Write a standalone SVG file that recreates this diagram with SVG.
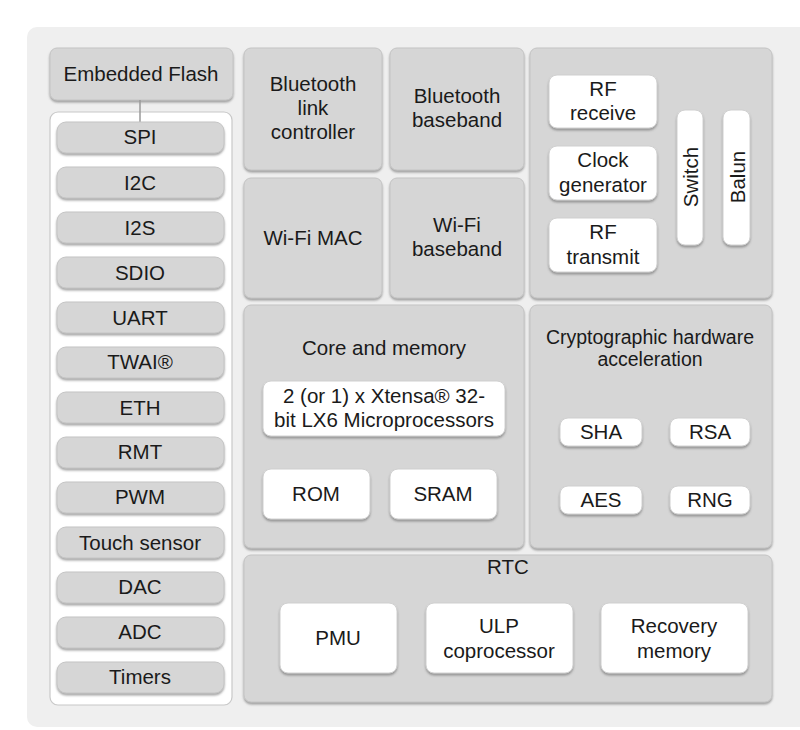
<svg xmlns="http://www.w3.org/2000/svg" width="800" height="730" viewBox="0 0 800 730">
<style>
.bg{fill:#efefef}
.p{fill:#d6d6d6;stroke:#c4c4c4;stroke-width:1;filter:url(#sh)}
.w{fill:#ffffff;stroke:#d0d0d0;stroke-width:1;filter:url(#sh)}
.pan{fill:#ffffff;stroke:#c8c8c8;stroke-width:1.2}
text{font-family:"Liberation Sans",Arial,sans-serif;font-size:20.5px;fill:#1a1a1a;text-anchor:middle;dominant-baseline:central}
text.t2{font-size:19.5px}
.conn{stroke:#9a9a9a;stroke-width:1.5;fill:none}
</style>
<defs>
<filter id="sh" x="-10%" y="-10%" width="120%" height="130%">
<feDropShadow dx="0" dy="2" stdDeviation="1" flood-color="#6a6a6a" flood-opacity="0.6"/>
</filter>
</defs>
<rect class="bg" x="27" y="27" width="790" height="700" rx="10"/>
<g id="flash"><rect class="p" x="50" y="48" width="183" height="52" rx="7"/><text x="141" y="73">Embedded Flash</text></g>
<rect class="pan" x="50" y="112" width="182" height="593" rx="8"/>
<g id="connectors"><line class="conn" x1="140" y1="100" x2="140" y2="122"/></g>
<g id="spi"><rect class="p" x="57" y="122" width="167" height="31" rx="9"/><text x="140" y="136">SPI</text></g>
<g id="i2c"><rect class="p" x="57" y="167" width="167" height="31" rx="9"/><text x="140" y="182">I2C</text></g>
<g id="i2s"><rect class="p" x="57" y="212" width="167" height="31" rx="9"/><text x="140" y="227">I2S</text></g>
<g id="sdio"><rect class="p" x="57" y="257" width="167" height="31" rx="9"/><text x="140" y="272">SDIO</text></g>
<g id="uart"><rect class="p" x="57" y="302" width="167" height="31" rx="9"/><text x="140" y="317">UART</text></g>
<g id="twai"><rect class="p" x="57" y="347" width="167" height="31" rx="9"/><text x="140" y="361">TWAI®</text></g>
<g id="eth"><rect class="p" x="57" y="392" width="167" height="31" rx="9"/><text x="140" y="407">ETH</text></g>
<g id="rmt"><rect class="p" x="57" y="437" width="167" height="31" rx="9"/><text x="140" y="451">RMT</text></g>
<g id="pwm"><rect class="p" x="57" y="482" width="167" height="31" rx="9"/><text x="140" y="496">PWM</text></g>
<g id="touch"><rect class="p" x="57" y="527" width="167" height="31" rx="9"/><text x="140" y="542">Touch sensor</text></g>
<g id="dac"><rect class="p" x="57" y="572" width="167" height="31" rx="9"/><text x="140" y="586">DAC</text></g>
<g id="adc"><rect class="p" x="57" y="617" width="167" height="31" rx="9"/><text x="140" y="631">ADC</text></g>
<g id="timers"><rect class="p" x="57" y="662" width="167" height="31" rx="9"/><text x="140" y="676">Timers</text></g>

<g id="btlink"><rect class="p" x="244" y="48" width="138" height="122" rx="7"/><text x="313" y="83">Bluetooth</text><text x="313" y="107">link</text><text x="313" y="131">controller</text></g>
<g id="btbase"><rect class="p" x="390" y="48" width="134" height="122" rx="7"/><text x="457" y="95">Bluetooth</text><text x="457" y="119">baseband</text></g>
<g id="wifimac"><rect class="p" x="244" y="178" width="138" height="120" rx="7"/><text x="313" y="237">Wi-Fi MAC</text></g>
<g id="wifibase"><rect class="p" x="390" y="178" width="134" height="120" rx="7"/><text x="457" y="224">Wi-Fi</text><text x="457" y="248">baseband</text></g>

<g id="rf"><rect class="p" x="530" y="48" width="242" height="250" rx="7"/>
<g id="rfrx"><rect class="w" x="549" y="75" width="108" height="53" rx="8"/><text x="603" y="88">RF</text><text x="603" y="112">receive</text></g>
<g id="clk"><rect class="w" x="549" y="146" width="108" height="54" rx="8"/><text x="603" y="159">Clock</text><text x="603" y="184">generator</text></g>
<g id="rftx"><rect class="w" x="549" y="218" width="108" height="54" rx="8"/><text x="603" y="231">RF</text><text x="603" y="256">transmit</text></g>
<g id="switch"><rect class="w" x="677" y="110" width="26" height="135" rx="8"/><text x="690" y="177" transform="rotate(-90 690 177)">Switch</text></g>
<g id="balun"><rect class="w" x="723" y="110" width="27" height="135" rx="8"/><text x="737" y="177" transform="rotate(-90 737 177)">Balun</text></g>
</g>

<g id="core"><rect class="p" x="244" y="305" width="280" height="243" rx="7"/><text x="384" y="347">Core and memory</text>
<g id="xtensa"><rect class="w" x="263" y="381" width="242" height="55" rx="8"/><text x="384" y="395">2 (or 1) x Xtensa® 32-</text><text x="384" y="419">bit LX6 Microprocessors</text></g>
<g id="rom"><rect class="w" x="263" y="469" width="107" height="50" rx="8"/><text x="316" y="493">ROM</text></g>
<g id="sram"><rect class="w" x="390" y="469" width="107" height="50" rx="8"/><text x="443" y="493">SRAM</text></g>
</g>

<g id="crypto"><rect class="p" x="530" y="305" width="242" height="243" rx="7"/><text class="t2" x="650" y="337">Cryptographic hardware</text><text class="t2" x="650" y="359">acceleration</text>
<g id="sha"><rect class="w" x="560" y="418" width="82" height="28" rx="8"/><text x="601" y="431">SHA</text></g>
<g id="rsa"><rect class="w" x="670" y="418" width="80" height="28" rx="8"/><text x="710" y="431">RSA</text></g>
<g id="aes"><rect class="w" x="560" y="486" width="82" height="28" rx="8"/><text x="601" y="499">AES</text></g>
<g id="rng"><rect class="w" x="670" y="486" width="80" height="28" rx="8"/><text x="710" y="499">RNG</text></g>
</g>

<g id="rtc"><rect class="p" x="244" y="555" width="528" height="147" rx="7"/><text x="508" y="566">RTC</text>
<g id="pmu"><rect class="w" x="280" y="603" width="117" height="70" rx="8"/><text x="338" y="637">PMU</text></g>
<g id="ulp"><rect class="w" x="426" y="603" width="147" height="70" rx="8"/><text x="499" y="625">ULP</text><text x="499" y="650">coprocessor</text></g>
<g id="recovery"><rect class="w" x="601" y="603" width="147" height="70" rx="8"/><text x="674" y="625">Recovery</text><text x="674" y="650">memory</text></g>
</g>
</svg>
